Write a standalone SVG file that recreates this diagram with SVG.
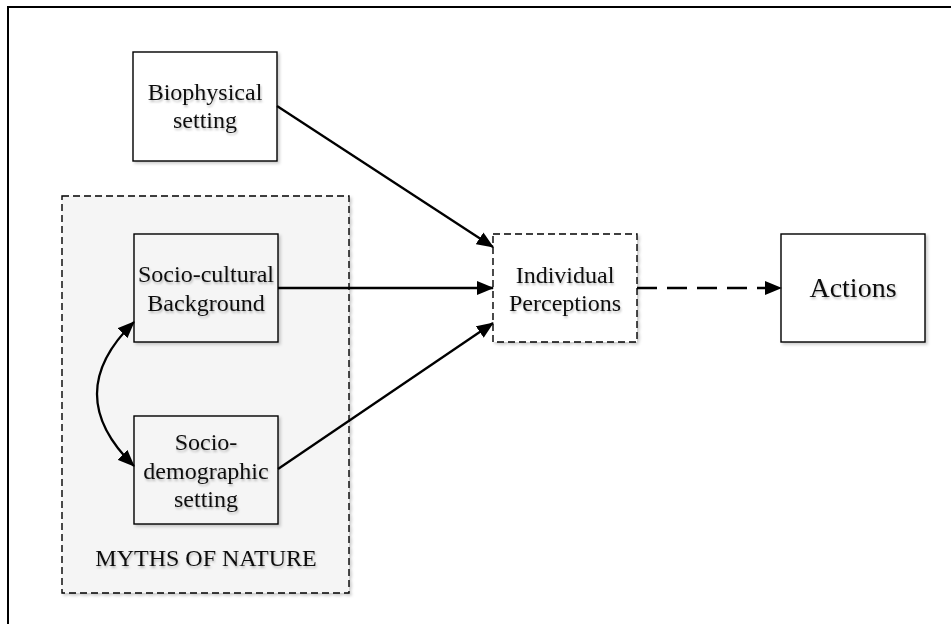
<svg xmlns="http://www.w3.org/2000/svg" width="951" height="624" viewBox="0 0 951 624">
<style>
.box{fill:#fff;stroke:#000;stroke-width:1.4}
.inbox{fill:#f5f5f5;stroke:#000;stroke-width:1.4}
.dash{stroke:#000;stroke-width:1.4;stroke-dasharray:7,4}
.t{font-family:"Liberation Serif","Times New Roman",serif;font-size:24px;fill:#111;text-anchor:middle}
.edge{fill:none;stroke:#000;stroke-width:2.3}
</style>
<defs>
<filter id="sh" x="-10%" y="-10%" width="130%" height="130%">
<feDropShadow dx="2" dy="2" stdDeviation="1.5" flood-color="#000" flood-opacity="0.2"/>
</filter>
<filter id="tsh" x="-10%" y="-20%" width="120%" height="150%">
<feDropShadow dx="1" dy="2" stdDeviation="1.2" flood-color="#000" flood-opacity="0.25"/>
</filter>
<marker id="ah" viewBox="0 0 17 14" refX="16" refY="7" markerWidth="17" markerHeight="14" markerUnits="userSpaceOnUse" orient="auto-start-reverse">
<path d="M0,0 L17,7 L0,14 Z" fill="#000"/>
</marker>
</defs>
<rect width="951" height="624" fill="#fff"/>
<rect x="8" y="7" width="960" height="640" fill="none" stroke="#000" stroke-width="2"/>

<g id="myths">
<rect x="62" y="196" width="287" height="397" fill="#f5f5f5" class="dash" filter="url(#sh)"/>
<text class="t" x="206" y="566" filter="url(#tsh)">MYTHS OF NATURE</text>
</g>

<g id="biophysical">
<rect class="box" x="133" y="52" width="144" height="109" filter="url(#sh)"/>
<text class="t" x="205" y="100" filter="url(#tsh)">Biophysical</text>
<text class="t" x="205" y="128" filter="url(#tsh)">setting</text>
</g>

<g id="socio-cultural">
<rect class="inbox" x="134" y="234" width="144" height="108" filter="url(#sh)"/>
<text class="t" x="206" y="282" filter="url(#tsh)">Socio-cultural</text>
<text class="t" x="206" y="311" filter="url(#tsh)">Background</text>
</g>

<g id="socio-demographic">
<rect class="inbox" x="134" y="416" width="144" height="108" filter="url(#sh)"/>
<text class="t" x="206" y="450" filter="url(#tsh)">Socio-</text>
<text class="t" x="206" y="479" filter="url(#tsh)">demographic</text>
<text class="t" x="206" y="507" filter="url(#tsh)">setting</text>
</g>

<g id="perceptions">
<rect x="493" y="234" width="144" height="108" fill="#fff" class="dash" filter="url(#sh)"/>
<text class="t" x="565" y="283" filter="url(#tsh)">Individual</text>
<text class="t" x="565" y="311" filter="url(#tsh)">Perceptions</text>
</g>

<g id="actions">
<rect class="box" x="781" y="234" width="144" height="108" filter="url(#sh)"/>
<text class="t" x="853" y="297" style="font-size:28px" filter="url(#tsh)">Actions</text>
</g>

<g id="connectors">
<line class="edge" x1="277" y1="106" x2="493" y2="247" marker-end="url(#ah)"/>
<line class="edge" x1="278" y1="288" x2="493" y2="288" marker-end="url(#ah)"/>
<line class="edge" x1="278" y1="469" x2="493" y2="323" marker-end="url(#ah)"/>
<line class="edge" x1="637" y1="288" x2="781" y2="288" stroke-dasharray="20,10" marker-end="url(#ah)"/>
<path class="edge" d="M134,322 Q60,394 134,466" marker-start="url(#ah)" marker-end="url(#ah)"/>
</g>
</svg>
